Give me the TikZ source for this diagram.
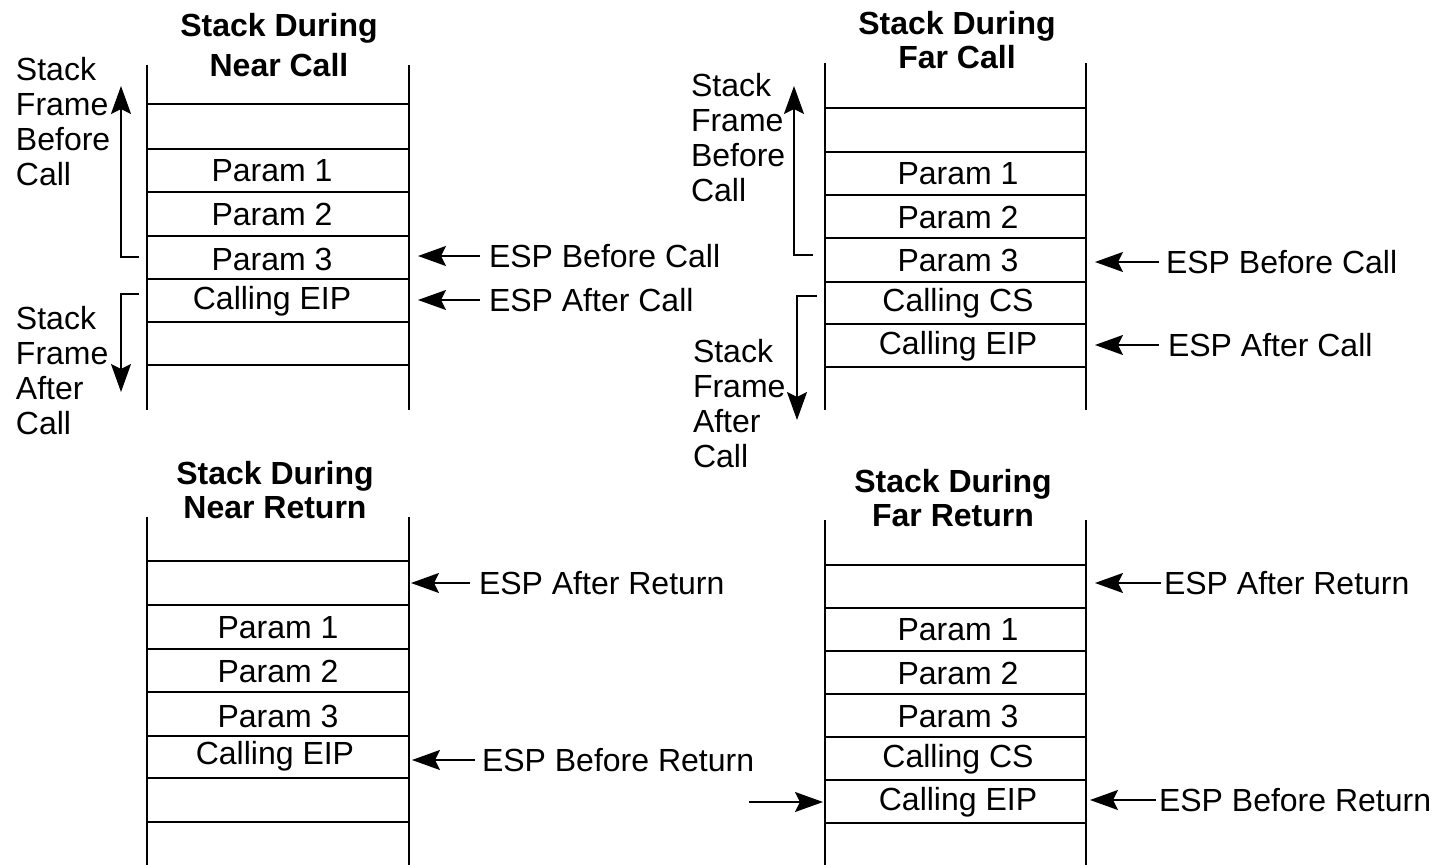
\documentclass[tikz,border=0pt]{standalone}
\usepackage{fontspec}
\setmainfont{Liberation Sans}
\usetikzlibrary{positioning,arrows.meta}

\begin{document}
\begin{tikzpicture}[x=0.5pt,y=-0.5pt,line width=1pt,
      cell/.style={font=\fontsize{16}{17.5}\selectfont,inner sep=0pt},
      ttl/.style={font=\fontsize{16}{17}\selectfont\bfseries,align=center,inner sep=0pt},
      side/.style={font=\fontsize{16}{17.5}\selectfont,align=left,inner sep=0pt,anchor=north west},
      esp/.style={font=\fontsize{16}{17.5}\selectfont,inner sep=0pt,anchor=west},
      arr/.style={-{Stealth[length=14pt,width=10pt,inset=2.5pt]},line width=1pt}]
      \useasboundingbox (0,0) rectangle (1445,865);
      % near call
      \coordinate (ncl) at (147,0);
      \coordinate (ncr) at (409,0);
      \draw (147,65) -- (147,410);
      \draw (409,65) -- (409,410);
      \foreach \y in {104,149,192,236,279,322,365}
        \draw (147,\y) -- (409,\y);
      \node[ttl,font=\fontsize{16}{20}\selectfont\bfseries] (nctitle) at (279,45) {Stack During\\Near Call};
      \node[cell] (nc1) at (272,171) {Param 1};
      \node[cell] (nc2) at (272,214) {Param 2};
      \node[cell] (nc3) at (272,259) {Param 3};
      \node[cell] (nc4) at (272,301) {Calling EIP};
      \node[side] (ncbefore) at (15,56) {Stack\\Frame\\Before\\Call};
      \node[side] (ncafter) at (15,305) {Stack\\Frame\\After\\Call};
      \coordinate (ncb1) at (139,257);
      \coordinate (ncb2) at (121,86);
      \draw[arr] (ncb1) -| (ncb2);
      \coordinate (nca1) at (139,294);
      \coordinate (nca2) at (121,392);
      \draw[arr] (nca1) -| (nca2);
      \node[esp] (ncespb) at (488,256) {ESP Before Call};
      \node[esp] (ncespa) at (488,300) {ESP After Call};
      \draw[arr,shorten <=4pt,shorten >=4.5pt] (ncespb.west) -- (ncespb.west -| ncr);
      \draw[arr,shorten <=4pt,shorten >=4.5pt] (ncespa.west) -- (ncespa.west -| ncr);

      % far call
      \coordinate (fcl) at (825,0);
      \coordinate (fcr) at (1086,0);
      \draw (825,63) -- (825,410);
      \draw (1086,63) -- (1086,410);
      \foreach \y in {108,152,195,238,282,324,367}
        \draw (825,\y) -- (1086,\y);
      \node[ttl] (fctitle) at (957,40) {Stack During\\Far Call};
      \node[cell] (fc1) at (958,174) {Param 1};
      \node[cell] (fc2) at (958,217) {Param 2};
      \node[cell] (fc3) at (958,260) {Param 3};
      \node[cell] (fc4) at (958,303) {Calling CS};
      \node[cell] (fc5) at (958,346) {Calling EIP};
      \node[side] (fcbefore) at (690,72) {Stack\\Frame\\Before\\Call};
      \node[side] (fcafter) at (692,338) {Stack\\Frame\\After\\Call};
      \coordinate (fcb1) at (813,255);
      \coordinate (fcb2) at (794,86);
      \draw[arr] (fcb1) -| (fcb2);
      \coordinate (fca1) at (817,296);
      \coordinate (fca2) at (797,420);
      \draw[arr] (fca1) -| (fca2);
      \node[esp] (fcespb) at (1165,262) {ESP Before Call};
      \node[esp] (fcespa) at (1167,345) {ESP After Call};
      \draw[arr,shorten <=3pt,shorten >=4.5pt] (fcespb.west) -- (fcespb.west -| fcr);
      \draw[arr,shorten <=4pt,shorten >=4.5pt] (fcespa.west) -- (fcespa.west -| fcr);

      % near return
      \coordinate (nrl) at (147,0);
      \coordinate (nrr) at (409,0);
      \draw (147,517) -- (147,865);
      \draw (409,517) -- (409,865);
      \foreach \y in {561,605,649,692,736,778,822}
        \draw (147,\y) -- (409,\y);
      \node[ttl] (nrtitle) at (275,490) {Stack During\\Near Return};
      \node[cell] (nr1) at (278,628) {Param 1};
      \node[cell] (nr2) at (278,671) {Param 2};
      \node[cell] (nr3) at (278,716) {Param 3};
      \node[cell] (nr4) at (275,756) {Calling EIP};
      \node[esp] (nrespa) at (478,583) {ESP After Return};
      \node[esp] (nrespb) at (481,760) {ESP Before Return};
      \draw[arr,shorten <=4pt,shorten >=1pt] (nrespa.west) -- (nrespa.west -| nrr);
      \draw[arr,shorten <=3pt,shorten >=1.5pt] (nrespb.west) -- (nrespb.west -| nrr);

      % far return
      \coordinate (frl) at (825,0);
      \coordinate (frr) at (1086,0);
      \draw (825,520) -- (825,865);
      \draw (1086,520) -- (1086,865);
      \foreach \y in {565,608,651,694,737,780,823}
        \draw (825,\y) -- (1086,\y);
      \node[ttl] (frtitle) at (953,498) {Stack During\\Far Return};
      \node[cell] (fr1) at (958,630) {Param 1};
      \node[cell] (fr2) at (958,673) {Param 2};
      \node[cell] (fr3) at (958,716) {Param 3};
      \node[cell] (fr4) at (958,759) {Calling CS};
      \node[cell] (fr5) at (958,802) {Calling EIP};
      \node[esp] (frespa) at (1163,583) {ESP After Return};
      \node[esp] (frespb) at (1158,800) {ESP Before Return};
      \draw[arr,shorten <=1pt,shorten >=4.5pt] (frespa.west) -- (frespa.west -| frr);
      \draw[arr,shorten <=1pt,shorten >=2pt] (frespb.west) -- (frespb.west -| frr);
      \coordinate (frin) at (749,802);
      \draw[arr,shorten >=1pt] (frin) -- (frin -| frl);
    \end{tikzpicture}
\end{document}
